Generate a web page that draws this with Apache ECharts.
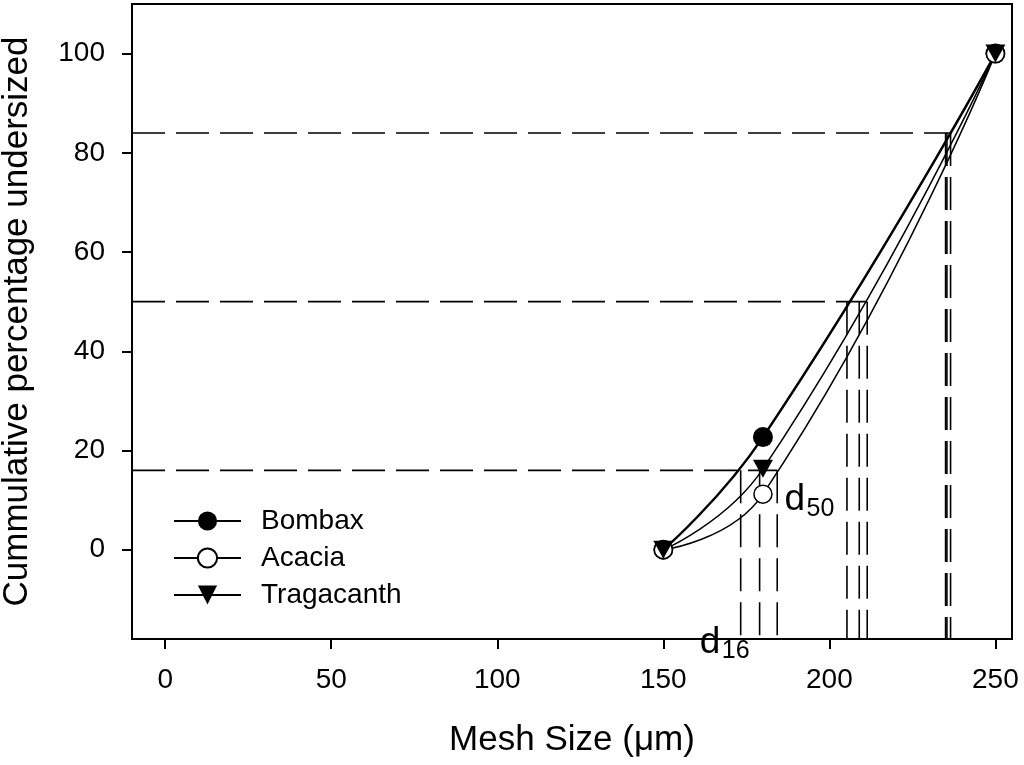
<!DOCTYPE html>
<html lang="en">
<head>
    <meta charset="utf-8">
    <title>Cummulative percentage undersized</title>
    <style>
        html, body {margin: 0; padding: 0; background: #fff;}
        #container {width: 1024px; height: 765px;}
    </style>
</head>
<body>
<div id="container"></div>

<script src="https://cdn.jsdelivr.net/npm/echarts@6/dist/echarts.min.js"></script>
<script>
var meshSize = [150, 180, 250];
var bombax = [0, 22.7, 100];
var acacia = [0, 11.2, 100];
var tragacanth = [0, 16.3, 100];

var xTicks = [0, 50, 100, 150, 200, 250];
var yTicks = [0, 20, 40, 60, 80, 100];
var xMin = -10, xMax = 255, yMin = -18, yMax = 110;

// d16 / d50 / d84 levels and where the curves cross them
var levels = [16, 50, 84];
var crossings = [
    [173.3, 179.0, 184.3],
    [205.3, 209.0, 211.4],
    [235.0, 235.4, 236.5]
];

// d labels: subscript text, left of "d", middle of "d" (data units)
var annoSub = ['16', '50'];
var annoX = [161, 186.5];
var annoY = [-18.7, 10];

var font = '"Liberation Sans", Arial, sans-serif';

function pairs(ys) {
    return meshSize.map(function (x, i) { return [x, ys[i]]; });
}

function guide(pts) {
    return {
        type: 'line', data: pts, symbol: 'none', silent: true, z: 1,
        lineStyle: {color: '#000', width: 1.6, type: [33, 11]}
    };
}

var guideSeries = [];
levels.forEach(function (lv, i) {
    var xs = crossings[i];
    guideSeries.push(guide([[xMin, lv], [Math.max.apply(null, xs), lv]]));
    xs.forEach(function (x) {
        guideSeries.push(guide([[x, lv], [x, yMin]]));
    });
});

var myChart = echarts.init(document.getElementById('container'));
var option = {
    animation: false,
    grid: {
        left: 132, right: 12, top: 4, bottom: 126,
        containLabel: false, outerBoundsMode: 'none',
        show: true, borderColor: '#000', borderWidth: 2
    },
    legend: {
        data: ['Bombax', 'Acacia', 'Tragacanth'],
        orient: 'vertical', left: 168, top: 500,
        itemWidth: 67, itemHeight: 24, itemGap: 5,
        textStyle: {fontSize: 28, color: '#000', fontFamily: font, padding: [0, 0, 0, 15], lineHeight: 32}
    },
    xAxis: {
        type: 'value', min: xMin, max: xMax,
        name: 'Mesh Size (\u03bcm)', nameLocation: 'middle', nameGap: 84,
        nameTextStyle: {fontSize: 35, color: '#000', fontFamily: font},
        axisLine: {onZero: false, lineStyle: {color: '#000', width: 2}},
        axisTick: {customValues: xTicks, length: 10, lineStyle: {color: '#000', width: 2}},
        axisLabel: {customValues: xTicks, margin: 27, fontSize: 28, color: '#000', fontFamily: font},
        splitLine: {show: false}
    },
    yAxis: {
        type: 'value', min: yMin, max: yMax,
        name: 'Cummulative percentage undersized', nameLocation: 'middle', nameGap: 97,
        nameTextStyle: {fontSize: 35, color: '#000', fontFamily: font},
        axisLine: {onZero: false, lineStyle: {color: '#000', width: 2}},
        axisTick: {customValues: yTicks, length: 10, lineStyle: {color: '#000', width: 2}},
        axisLabel: {customValues: yTicks, margin: 27, fontSize: 28, color: '#000', fontFamily: font},
        splitLine: {show: false}
    },
    series: guideSeries.concat([
        {
            name: 'Bombax', type: 'line', smooth: 0.5, data: pairs(bombax), z: 5,
            symbol: 'circle', symbolSize: 20,
            itemStyle: {color: '#000'},
            lineStyle: {color: '#000', width: 2.5}
        },
        {
            name: 'Acacia', type: 'line', smooth: 0.5, data: pairs(acacia), z: 5,
            symbol: 'circle', symbolSize: 18,
            itemStyle: {color: '#fff', borderColor: '#000', borderWidth: 1.5},
            lineStyle: {color: '#000', width: 1.5}
        },
        {
            name: 'Tragacanth', type: 'line', smooth: 0.5, data: pairs(tragacanth), z: 5,
            symbol: 'triangle', symbolRotate: 180, symbolSize: [20, 18],
            itemStyle: {color: '#000'},
            lineStyle: {color: '#000', width: 1.5}
        }
    ])
};
myChart.setOption(option);

var graphics = [];
annoSub.forEach(function (sub, i) {
    var p = myChart.convertToPixel({gridIndex: 0}, [annoX[i], annoY[i]]);
    graphics.push({
        type: 'text', x: p[0], y: p[1], z: 10,
        style: {text: 'd', font: '37px ' + font, fill: '#000', align: 'left', verticalAlign: 'middle'}
    });
    graphics.push({
        type: 'text', x: p[0] + 22, y: p[1] + 9, z: 10,
        style: {text: sub, font: '25px ' + font, fill: '#000', align: 'left', verticalAlign: 'middle'}
    });
});
myChart.setOption({graphic: graphics});
</script>
</body>
</html>
